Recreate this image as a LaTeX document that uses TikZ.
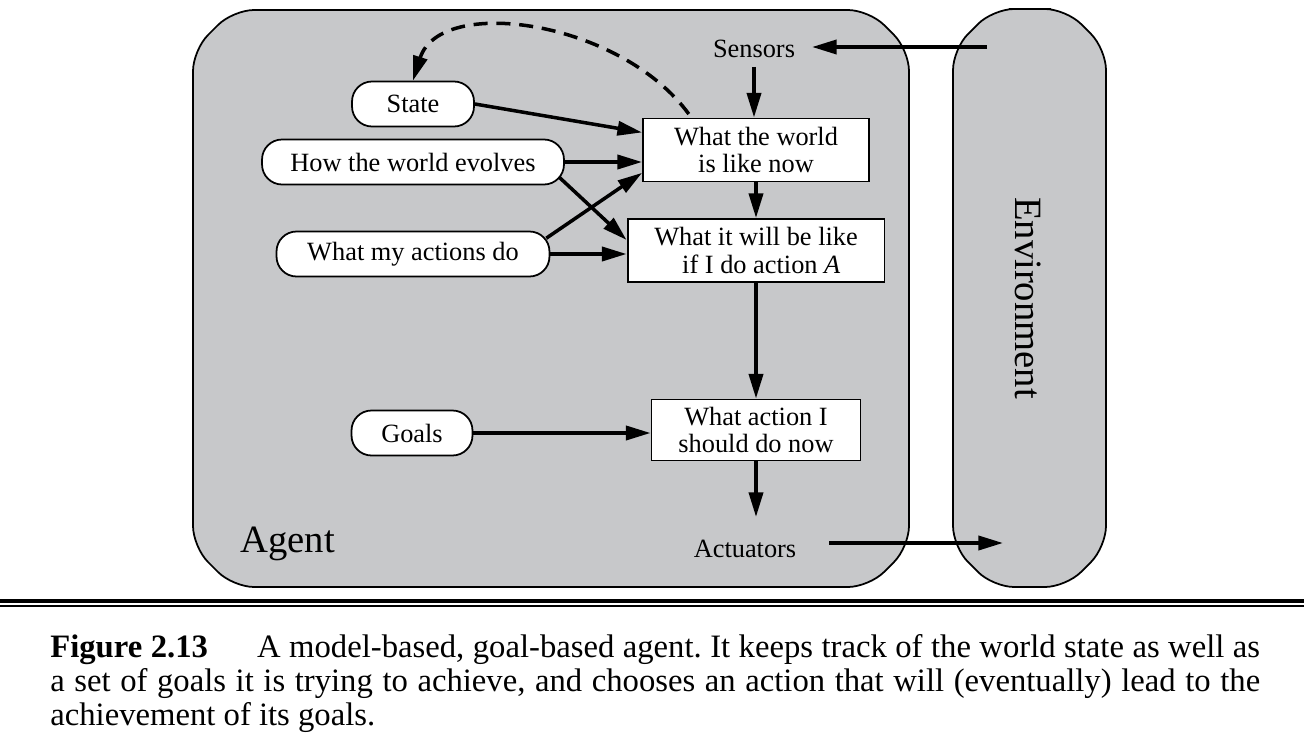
\documentclass[tikz,border=0pt]{standalone}
\usepackage{fontspec}
\setmainfont{Liberation Serif}
\usetikzlibrary{arrows.meta}
\definecolor{agentgray}{RGB}{199,200,202}
\frenchspacing

\begin{document}
\begin{tikzpicture}[x=0.02cm,y=-0.02cm,
  lab/.style={font=\fontsize{15}{15.4}\selectfont},
  box/.style={lab,draw,line width=1.1pt,fill=white,align=center,minimum height=1.26cm,inner sep=0pt},
  pill/.style={lab,draw,line width=1pt,fill=white,rounded corners=0.4cm,minimum height=0.9cm,inner sep=0pt},
  arr/.style={line width=2pt,-{Triangle[length=14pt,width=8pt]}},
  big/.style={font=\fontsize{22}{24}\selectfont,inner sep=0pt}]

\useasboundingbox (0,0) rectangle (1304,750);

\draw[line width=1pt,fill=agentgray,rounded corners=12pt] (550,10) -- (869,10) -- (909,50) -- (909,547) -- (869,587) -- (233,587) -- (193,547) -- (193,50) -- (233,10) -- cycle;
\draw[line width=1pt,fill=agentgray,rounded corners=12pt] (1030,9) -- (1066,9) -- (1106,49) -- (1106,547) -- (1066,587) -- (993,587) -- (953,547) -- (953,49) -- (993,9) -- cycle;

\draw[line width=2.3pt] (0,601.3) -- (1304,601.3);
\draw[line width=1.1pt] (0,605.7) -- (1304,605.7);

\node[pill,minimum width=2.44cm] (state) at (413,104) {State};
\node[pill,minimum width=6.04cm] (evolve) at (413,162) {How the world evolves};
\node[pill,minimum width=5.46cm] (effect) at (413,254) {What my actions do};
\node[pill,minimum width=2.42cm] (goals) at (412,433) {Goals};

\node[box,minimum width=4.52cm] (now) at (756,150) {What the world\\is like now};
\node[box,minimum width=5.14cm] (future) at (756,250.5) {What it will be like\\\hspace{6pt}if I do action \textit{A}};
\node[box,minimum width=4.18cm,minimum height=1.22cm] (action) at (756,430) {What action I\\should do now};

\node[lab,inner sep=0pt] (sensors) at (754,49) {Sensors};
\node[lab,inner sep=0pt] (actuators) at (745,549) {Actuators};
\node[big,anchor=base west] (agent) at (240,552) {Agent};
\node[big,rotate=-90] (env) at (1028,298) {Environment};

\coordinate (senv) at (987,47);
\coordinate (aenv) at (1003,543);

\draw[arr] (senv) -- ([xshift=9.5pt]sensors.east |- senv);
\draw[arr] ([yshift=-5pt]sensors.south) -- (sensors.south |- now.north);
\draw[arr] (state.east) -- ([yshift=10pt]now.west);
\draw[arr] (evolve.east) -- (evolve.east -| now.west);
\draw[arr] ([xshift=-3.4pt,yshift=-8.5pt]evolve.east) -- ([yshift=6pt]future.west);
\draw[arr] ([xshift=-2.3pt,yshift=9pt]effect.east) -- ([yshift=-13pt]now.west);
\draw[arr] (effect.east) -- (effect.east -| future.west);
\draw[arr] (goals.east) -- (goals.east -| action.west);
\draw[arr] (now.south) -- (future.north);
\draw[arr] (future.south) -- (action.north);
\draw[arr] (action.south) -- ([yshift=13pt]actuators.north -| action.south);
\draw[arr] ([xshift=18.7pt]actuators.east |- aenv) -- (aenv);
\draw[arr,dash pattern=on 8pt off 5pt] ([xshift=26.6pt,yshift=2pt]now.north west) .. controls (620,20) and (440,-5) .. (state.north);

\node[anchor=north west,inner sep=0pt,text width=24.2cm,align=justify,font=\fontsize{18.6}{19.3}\selectfont] (caption) at (50,634)
  {\textbf{Figure 2.13}\hspace{28pt}A model-based, goal-based agent. It keeps track of the world state as well as\linebreak a set of goals it is trying to achieve, and chooses an action that will (eventually) lead to the\linebreak achievement of its goals.};
\end{tikzpicture}
\end{document}
